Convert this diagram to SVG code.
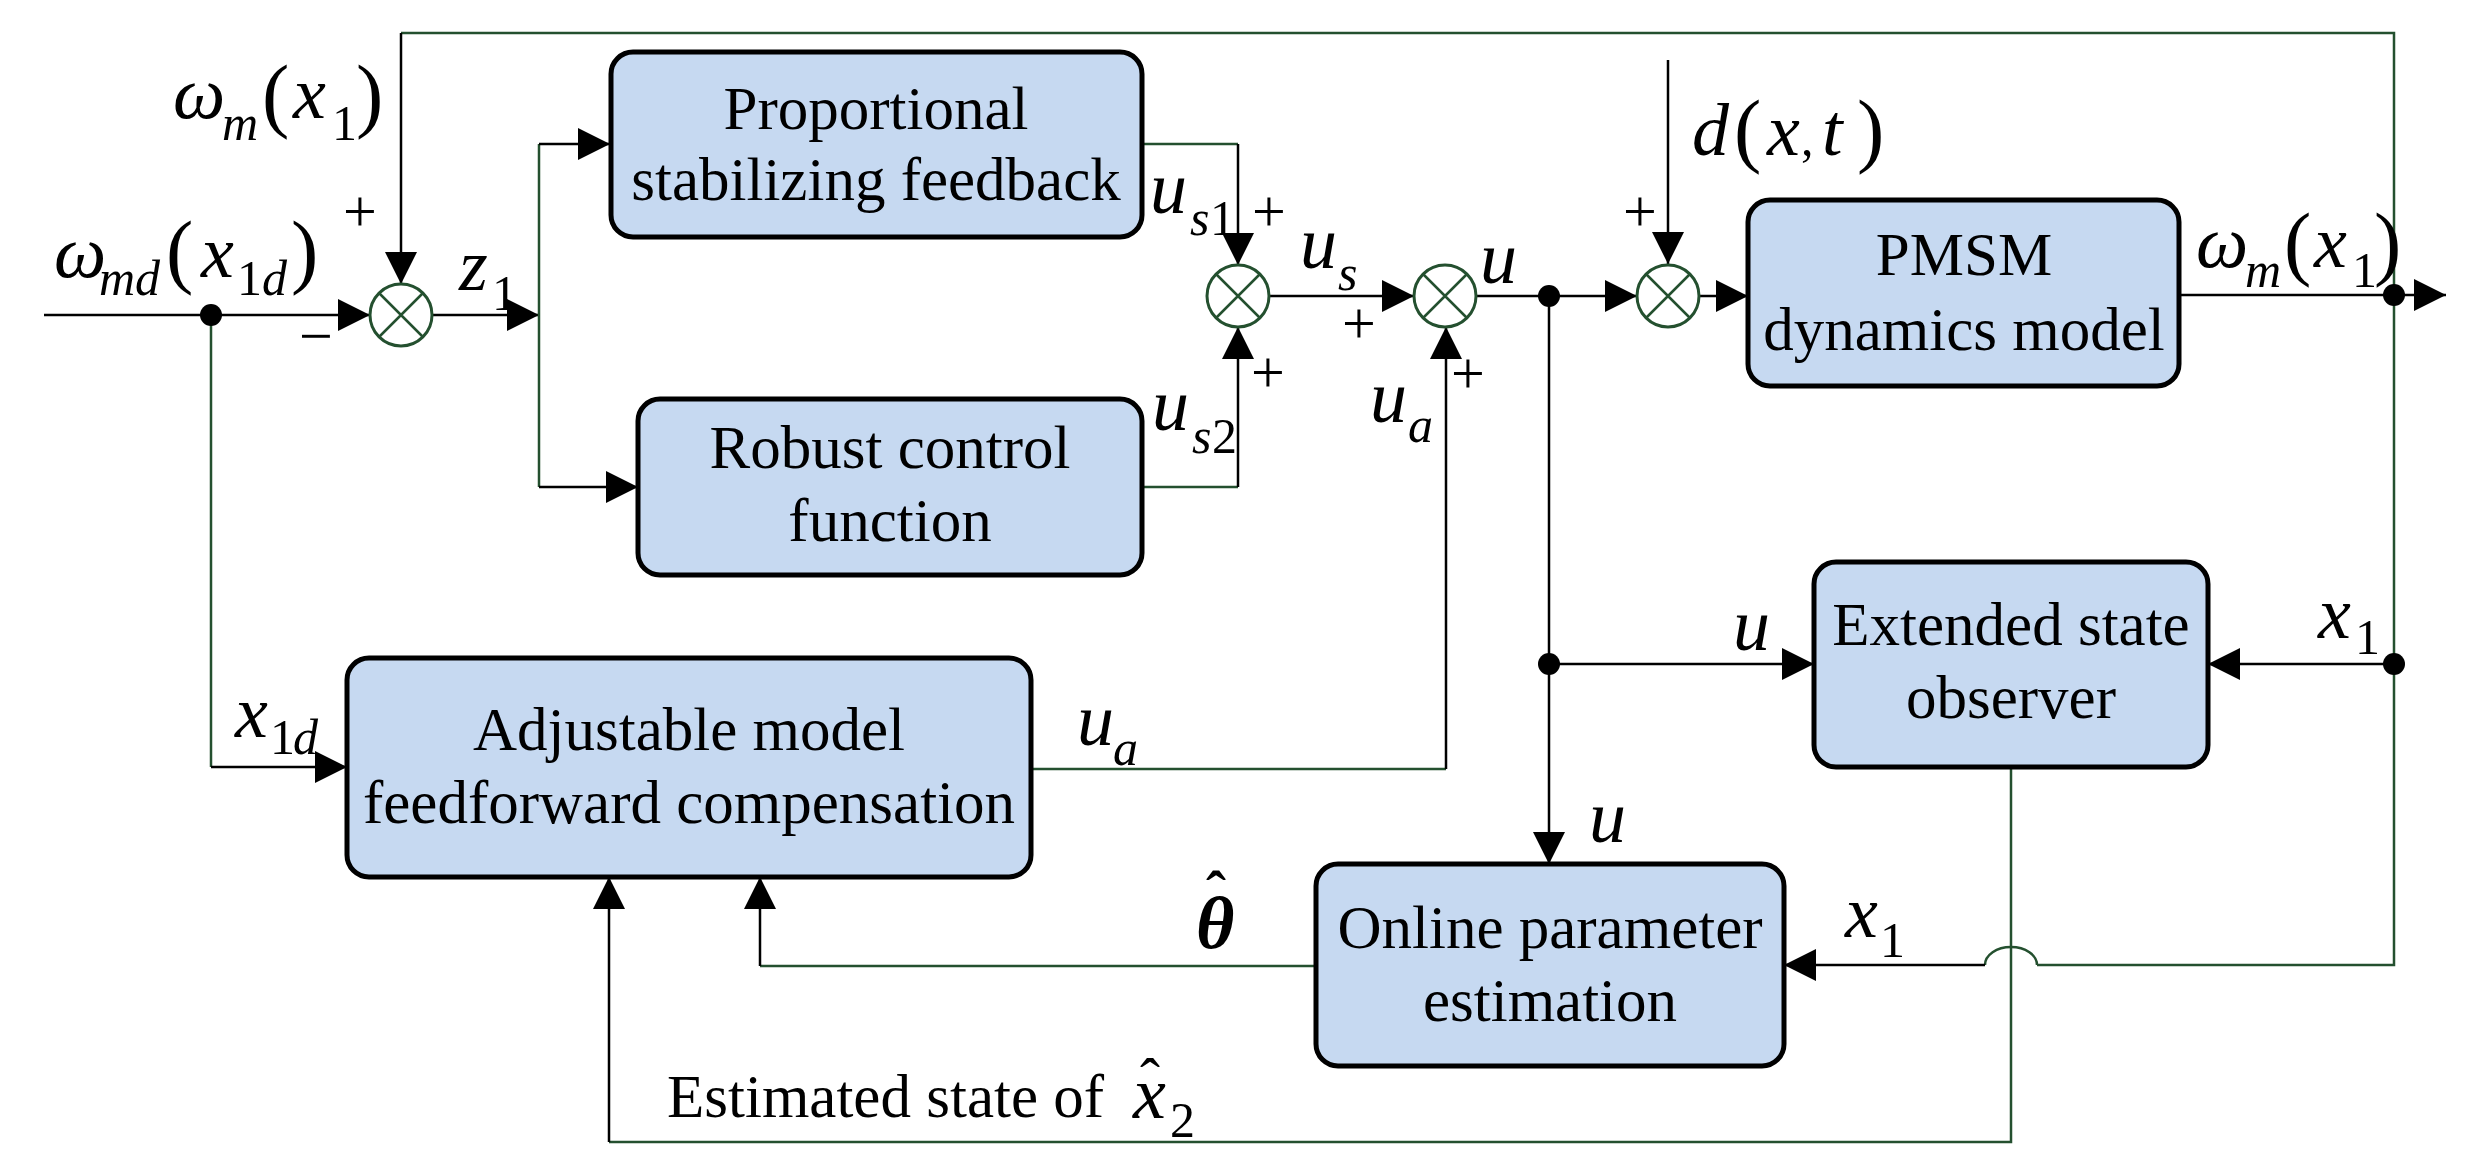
<svg xmlns="http://www.w3.org/2000/svg" width="2469" height="1167" viewBox="0 0 2469 1167">
<style>
text{font-family:'Liberation Serif','DejaVu Serif',serif;fill:#000}
.blk{fill:#C6D9F1;stroke:#000;stroke-width:5}
.bt{font-size:61px;text-anchor:middle}
.lb{font-size:61px}
.k{fill:none;stroke:#000;stroke-width:2.5}
.g{fill:none;stroke:#24502F;stroke-width:2.5}
.sum{fill:#fff;stroke:#24502F;stroke-width:3}
.sx{stroke:#24502F;stroke-width:2.5}
.m{font-style:italic;font-size:74px}
.s{font-style:italic;font-size:50px}
.n{font-size:50px}
.p{font-size:82px}
.h{font-size:60px}
.sg{font-size:60px;text-anchor:middle}
</style>
<defs>
<marker id="ar" markerUnits="userSpaceOnUse" markerWidth="32" markerHeight="32" refX="32" refY="16" orient="auto">
<path d="M0,0 L32,16 L0,32 z" fill="#000"/>
</marker>
</defs>
<rect width="2469" height="1167" fill="#fff"/>

<g id="connectors">
<line class="k" x1="44" y1="315" x2="370" y2="315" marker-end="url(#ar)"/>
<polyline class="g" points="401,33 2394,33 2394,965 2037,965"/>
<path class="g" d="M2037,965 A26,18 0 0 0 1985,965"/>
<line class="k" x1="1985" y1="965" x2="1784" y2="965" marker-end="url(#ar)"/>
<line class="k" x1="401" y1="33" x2="401" y2="284" marker-end="url(#ar)"/>
<line class="k" x1="2180" y1="295" x2="2446" y2="295" marker-end="url(#ar)"/>
<line class="k" x1="432" y1="315" x2="539" y2="315" marker-end="url(#ar)"/>
<line class="g" x1="539" y1="144" x2="539" y2="487"/>
<line class="k" x1="539" y1="144" x2="610" y2="144" marker-end="url(#ar)"/>
<line class="k" x1="539" y1="487" x2="638" y2="487" marker-end="url(#ar)"/>
<line class="g" x1="1142" y1="144" x2="1238" y2="144"/>
<line class="k" x1="1238" y1="144" x2="1238" y2="265" marker-end="url(#ar)"/>
<line class="g" x1="1142" y1="487" x2="1238" y2="487"/>
<line class="k" x1="1238" y1="487" x2="1238" y2="327" marker-end="url(#ar)"/>
<line class="k" x1="1269" y1="296" x2="1414" y2="296" marker-end="url(#ar)"/>
<line class="k" x1="1476" y1="296" x2="1637" y2="296" marker-end="url(#ar)"/>
<line class="k" x1="1668" y1="60" x2="1668" y2="264" marker-end="url(#ar)"/>
<line class="k" x1="1699" y1="296" x2="1748" y2="296" marker-end="url(#ar)"/>
<line class="k" x1="1549" y1="296" x2="1549" y2="864" marker-end="url(#ar)"/>
<line class="k" x1="1549" y1="664" x2="1814" y2="664" marker-end="url(#ar)"/>
<line class="k" x1="2394" y1="664" x2="2208" y2="664" marker-end="url(#ar)"/>
<line class="g" x1="1031" y1="769" x2="1446" y2="769"/>
<line class="k" x1="1446" y1="769" x2="1446" y2="327" marker-end="url(#ar)"/>
<line class="g" x1="211" y1="315" x2="211" y2="767"/>
<line class="k" x1="211" y1="767" x2="347" y2="767" marker-end="url(#ar)"/>
<polyline class="g" points="1316,966 760,966"/>
<line class="k" x1="760" y1="966" x2="760" y2="877" marker-end="url(#ar)"/>
<polyline class="g" points="2011,767 2011,1142 609,1142"/>
<line class="k" x1="609" y1="1142" x2="609" y2="877" marker-end="url(#ar)"/>
<circle cx="211" cy="315" r="11" fill="#000"/>
<circle cx="1549" cy="296" r="11" fill="#000"/>
<circle cx="1549" cy="664" r="11" fill="#000"/>
<circle cx="2394" cy="295" r="11" fill="#000"/>
<circle cx="2394" cy="664" r="11" fill="#000"/>
</g>

<g id="sum1">
<circle class="sum" cx="401" cy="315" r="31"/>
<path class="sx" d="M379,293 L423,337 M423,293 L379,337"/>
</g>
<g id="sum2">
<circle class="sum" cx="1238" cy="296" r="31"/>
<path class="sx" d="M1216,274 L1260,318 M1260,274 L1216,318"/>
</g>
<g id="sum3">
<circle class="sum" cx="1445" cy="296" r="31"/>
<path class="sx" d="M1423,274 L1467,318 M1467,274 L1423,318"/>
</g>
<g id="sum4">
<circle class="sum" cx="1668" cy="296" r="31"/>
<path class="sx" d="M1646,274 L1690,318 M1690,274 L1646,318"/>
</g>

<g id="prop">
<rect class="blk" x="611" y="52" width="531" height="185" rx="22"/>
<text class="bt" x="876" y="129">Proportional</text>
<text class="bt" x="876" y="200">stabilizing feedback</text>
</g>
<g id="robust">
<rect class="blk" x="638" y="399" width="504" height="176" rx="22"/>
<text class="bt" x="890" y="468">Robust control</text>
<text class="bt" x="890" y="541">function</text>
</g>
<g id="adjust">
<rect class="blk" x="347" y="658" width="684" height="219" rx="22"/>
<text class="bt" x="689" y="750">Adjustable model</text>
<text class="bt" x="689" y="823">feedforward compensation</text>
</g>
<g id="pmsm">
<rect class="blk" x="1748" y="200" width="431" height="186" rx="22"/>
<text class="bt" x="1964" y="275">PMSM</text>
<text class="bt" x="1964" y="350">dynamics model</text>
</g>
<g id="eso">
<rect class="blk" x="1814" y="562" width="394" height="205" rx="22"/>
<text class="bt" x="2011" y="645">Extended state</text>
<text class="bt" x="2011" y="718">observer</text>
</g>
<g id="online">
<rect class="blk" x="1316" y="864" width="468" height="202" rx="22"/>
<text class="bt" x="1550" y="948">Online parameter</text>
<text class="bt" x="1550" y="1021">estimation</text>
</g>

<g id="labels">
<text class="m" x="173" y="118">ω</text><text class="s" x="222" y="140">m</text>
<text class="p" x="262" y="122">(</text><text class="m" x="293" y="118">x</text><text class="n" x="332" y="140">1</text><text class="p" x="356" y="122">)</text>
<text class="m" x="54" y="277">ω</text><text class="s" x="99" y="295">md</text>
<text class="p" x="166" y="278">(</text><text class="m" x="201" y="277">x</text><text class="n" x="237" y="295">1</text><text class="s" x="262" y="295">d</text><text class="p" x="291" y="278">)</text>
<text class="m" x="459" y="290">z</text><text class="n" x="492" y="310">1</text>
<text class="sg" x="360" y="231">+</text>
<text class="sg" x="316" y="356">−</text>
<text class="sg" x="1269" y="231">+</text>
<text class="sg" x="1268" y="392">+</text>
<text class="sg" x="1359" y="343">+</text>
<text class="sg" x="1468" y="393">+</text>
<text class="sg" x="1640" y="231">+</text>
<text class="m" x="1150" y="213">u</text><text class="s" x="1190" y="235">s</text><text class="n" x="1210" y="235">1</text>
<text class="m" x="1152" y="430">u</text><text class="s" x="1192" y="453">s</text><text class="n" x="1212" y="453">2</text>
<text class="m" x="1300" y="268">u</text><text class="s" x="1338" y="290">s</text>
<text class="m" x="1370" y="422">u</text><text class="s" x="1408" y="442">a</text>
<text class="m" x="1480" y="283">u</text>
<text class="m" x="1692" y="155">d</text><text class="p" x="1734" y="157">(</text><text class="m" x="1767" y="155">x</text><text class="n" x="1801" y="155">,</text><text class="m" x="1822" y="155">t</text><text class="p" x="1857" y="157">)</text>
<text class="m" x="2196" y="267">ω</text><text class="s" x="2245" y="287">m</text>
<text class="p" x="2284" y="270">(</text><text class="m" x="2314" y="267">x</text><text class="n" x="2352" y="287">1</text><text class="p" x="2374" y="270">)</text>
<text class="m" x="1733" y="650">u</text>
<text class="m" x="2318" y="638">x</text><text class="n" x="2355" y="654">1</text>
<text class="m" x="1589" y="842">u</text>
<text class="m" x="1845" y="937">x</text><text class="n" x="1880" y="957">1</text>
<text class="m" x="235" y="737">x</text><text class="n" x="270" y="754">1</text><text class="s" x="293" y="754">d</text>
<text class="m" x="1077" y="745">u</text><text class="s" x="1113" y="765">a</text>
<text class="m" x="1196" y="948" font-weight="bold">θ</text>
<text class="h" x="1206" y="912" font-weight="bold">ˆ</text>
<text class="lb" x="667" y="1117">Estimated state of</text>
<text class="m" x="1133" y="1118">x</text>
<text class="h" x="1140" y="1099">ˆ</text>
<text class="n" x="1170" y="1137">2</text>
</g>
</svg>
